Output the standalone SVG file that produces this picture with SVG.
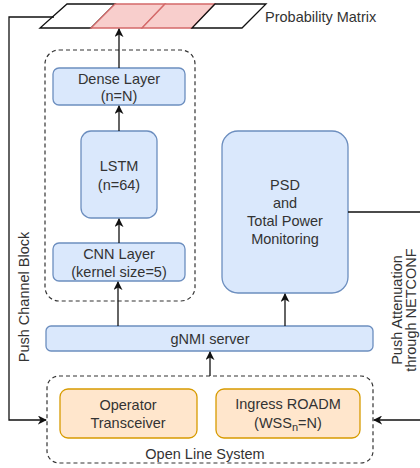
<svg xmlns="http://www.w3.org/2000/svg" width="420" height="468" viewBox="0 0 420 468">
<defs>
<style>
text{font-family:"Liberation Sans",Arial,sans-serif;font-size:14.5px;fill:#333;text-anchor:middle}
.blue{fill:#dae8fc;stroke:#6c8ebf;stroke-width:1.3}
.orange{fill:#ffe6cc;stroke:#d79b00;stroke-width:1.3}
.dash{fill:none;stroke:#333;stroke-width:1.2;stroke-dasharray:4 3}
.cell{fill:#fff;stroke:#111;stroke-width:1.3}
.pink{fill:#f8cecc;stroke:#d46a6a;stroke-width:1.3}
.conn{fill:none;stroke:#111;stroke-width:1.3}
</style>
<marker id="ah" viewBox="0 0 10 10" refX="9" refY="5" markerWidth="9" markerHeight="9" orient="auto" markerUnits="userSpaceOnUse">
<path d="M0,0 L10,5 L0,10 L3,5 Z" fill="#111"/>
</marker>
</defs>
<g id="matrix">
<polygon class="cell" points="67,4 115,4 91,28 40,28"/>
<polygon class="pink" points="115,4 165,4 142,28 91,28"/>
<polygon class="pink" points="165,4 215,4 192,28 142,28"/>
<polygon class="cell" points="215,4 266,4 242,28 192,28"/>
<text x="265" y="22" style="text-anchor:start">Probability Matrix</text>
</g>
<g id="nn-group"><rect class="dash" x="45" y="50" width="150" height="251" rx="14"/></g>
<g id="dense"><rect class="blue" x="53" y="68" width="132" height="37" rx="6"/><text x="119" y="84">Dense Layer</text><text x="119" y="101">(n=N)</text></g>
<g id="lstm"><rect class="blue" x="81" y="131" width="76" height="87" rx="10"/><text x="119" y="171">LSTM</text><text x="119" y="190">(n=64)</text></g>
<g id="cnn"><rect class="blue" x="53" y="243" width="132" height="38" rx="6"/><text x="119" y="259">CNN Layer</text><text x="119" y="277">(kernel size=5)</text></g>
<g id="psd"><rect class="blue" x="222" y="131" width="126" height="162" rx="16"/><text x="285" y="190">PSD</text><text x="285" y="208">and</text><text x="285" y="226">Total Power</text><text x="285" y="244">Monitoring</text></g>
<g id="gnmi"><rect class="blue" x="46" y="326" width="327" height="25" rx="5"/><text x="210" y="344">gNMI server</text></g>
<g id="ols"><rect class="dash" x="47" y="376" width="326" height="87" rx="12"/><text x="205" y="459">Open Line System</text></g>
<g id="transceiver"><rect class="orange" x="60" y="389" width="137" height="49" rx="8"/><text x="128" y="410">Operator</text><text x="128" y="428">Transceiver</text></g>
<g id="roadm"><rect class="orange" x="216" y="389" width="144" height="49" rx="8"/><text x="288" y="409">Ingress ROADM</text><text x="288" y="428">(WSS<tspan font-size="11" dy="3">n</tspan><tspan dy="-3">=N)</tspan></text></g>
<g id="connectors">
<line class="conn" x1="119" y1="68" x2="119" y2="29" marker-end="url(#ah)"/>
<line class="conn" x1="119" y1="131" x2="119" y2="106" marker-end="url(#ah)"/>
<line class="conn" x1="119" y1="243" x2="119" y2="219" marker-end="url(#ah)"/>
<line class="conn" x1="118" y1="326" x2="118" y2="282" marker-end="url(#ah)"/>
<line class="conn" x1="285" y1="326" x2="285" y2="294" marker-end="url(#ah)"/>
<line class="conn" x1="210" y1="376" x2="210" y2="352" marker-end="url(#ah)"/>
<polyline class="conn" points="54,17 9,17 9,420 46,420" marker-end="url(#ah)"/>
<polyline class="conn" points="348,212 422,212 422,420 374,420" marker-end="url(#ah)"/>
<text transform="translate(29,297) rotate(-90)">Push Channel Block</text>
<text transform="translate(402,310) rotate(-90)">Push Attenuation</text>
<text transform="translate(416,310) rotate(-90)">through NETCONF</text>
</g>
</svg>
